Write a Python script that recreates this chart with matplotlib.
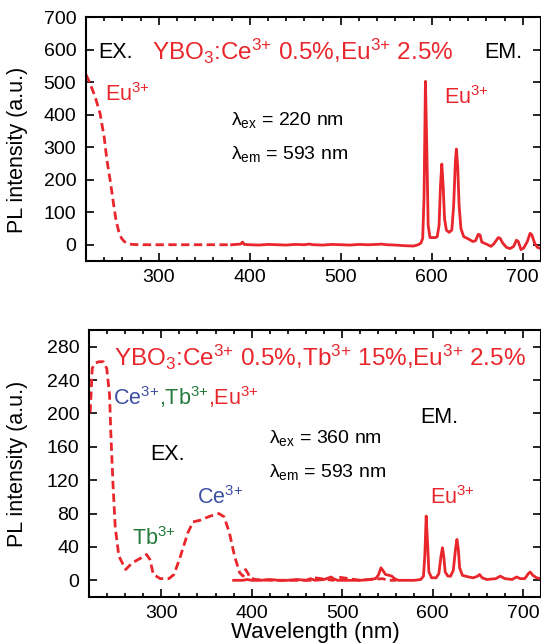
import numpy as np
import matplotlib
matplotlib.use('Agg')
import matplotlib.pyplot as plt
from matplotlib.ticker import MultipleLocator

plt.rcParams['font.family'] = ['Liberation Sans', 'DejaVu Sans']
plt.rcParams['mathtext.fontset'] = 'custom'
plt.rcParams['mathtext.rm'] = 'Liberation Sans'
plt.rcParams['mathtext.it'] = 'Liberation Sans:italic'
plt.rcParams['mathtext.bf'] = 'Liberation Sans:bold'
plt.rcParams['mathtext.default'] = 'regular'

RED = '#E8262C'
BLUE = '#3D4FA1'
GREEN = '#237A3B'

# --- top panel: YBO3:Ce 0.5%, Eu 2.5%
ex1_wl = [220, 223, 226, 230, 235.5, 240, 243, 247, 250.7, 253, 256.4, 259, 262, 266, 270,
          280, 300, 320, 340, 360, 380]
ex1_int = [523, 505, 484, 455, 403, 330, 260, 190, 117, 75, 36, 20, 10, 4, 1,
           0, 0, 0, 0, 0, 0]

em1_wl = [380, 385, 390, 392, 394, 400, 410, 420, 430, 440, 450, 460, 465, 470, 480, 490,
          500, 510, 520, 530, 540, 545, 550, 560, 570, 580, 585, 588, 590, 591.5, 593,
          594.5, 596, 598, 604, 606, 608, 609.5, 611, 612.5, 614, 616, 619, 622, 624,
          626, 627, 628.5, 630, 632, 635, 640, 645, 648, 651, 653, 655, 660, 665, 668,
          670, 673, 675, 678, 682, 686, 690, 693, 695, 698, 701, 705, 708, 710, 713,
          716, 720]
em1_int = [0, 1, 2, 8, 1, 0, -1, 1, 0, -1, 1, 0, 2, 0, -1, 1,
           0, -1, 1, 0, 1, 2, 0, -1, -3, -4, 0, 5, 20, 150, 502,
           300, 60, 22, 22, 25, 60, 180, 248, 180, 80, 45, 38, 45, 120,
           260, 294, 240, 120, 50, 25, 18, 10, 12, 32, 30, 8, 2, -5, 2,
           10, 22, 20, 5, -8, -12, -5, 14, 10, -15, -10, 10, 35, 30, 5,
           -8, -12]

# --- bottom panel: YBO3:Ce 0.5%, Tb 15%, Eu 2.5%
ex2_wl = [221.3, 223.6, 226.3, 231, 235.8, 239.6, 242.7, 244.2, 246.5, 249, 253, 260.6,
          268, 277.8, 283.6, 287.4, 291.2, 298.9, 308.4, 314, 320, 329.4, 335, 342.8,
          354.2, 363.8, 369.5, 375.3, 381, 386.7, 390.5, 393.2, 396, 398, 404, 420,
          440, 465, 470, 490, 495, 520, 545, 550, 560]
ex2_int = [201, 254, 260, 262, 262, 254, 223, 175, 116, 64, 29, 13,
           21, 27, 31, 25, 7, 2, 2, 7, 25, 57, 70, 72,
           77, 80, 76, 57, 29, 9, 5, 13, 8, 3, 1, 0,
           0, 0, 3, 0, 4, 0, 2, 0, 0]

em2_wl = [380, 390, 395, 400, 410, 420, 430, 440, 450, 460, 465, 470, 480, 488, 490, 495,
          500, 510, 520, 530, 537, 540, 543, 545, 548, 552, 555, 558, 562, 570, 580,
          587, 590, 591.5, 593, 594.5, 596, 599, 604, 607, 609.5, 611, 612.5, 614, 617,
          620, 623, 625.5, 627, 628.5, 630, 633, 640, 645, 650, 652, 655, 660, 670, 675,
          680, 688, 693, 697, 702, 706, 708, 711, 715, 720]
em2_int = [0, 0, 1, 0, 0, 1, 0, 0, 1, 0, 2, 0, 1, 4, 2, 0,
           0, 0, 0, 1, 2, 6, 15, 12, 7, 6, 5, 2, 0, 0, 0,
           1, 5, 30, 77, 45, 10, 3, 3, 8, 30, 39, 28, 10, 5,
           5, 12, 38, 49, 38, 15, 6, 4, 3, 5, 7, 3, 1, 2, 5,
           2, 1, 4, 2, 2, 8, 10, 6, 3, 2]

top_yticks = [0, 100, 200, 300, 400, 500, 600, 700]
bot_yticks = [0, 40, 80, 120, 160, 200, 240, 280]
xticks = [300, 400, 500, 600, 700]

S = r'$^{\text{3+}}$'

fig = plt.figure(figsize=(5.41, 6.43), dpi=100)
ax1 = fig.add_axes([86/541, 1-261/643, 455/541, 244/643])
ax2 = fig.add_axes([89/541, 1-597/643, 452/541, 267/643])

for ax in (ax1, ax2):
    for s in ax.spines.values():
        s.set_linewidth(1.5)
    ax.set_xlim(220, 720)
    ax.set_xticks(xticks)
    ax.xaxis.set_minor_locator(MultipleLocator(20))
    ax.tick_params(axis='both', which='both', direction='in', top=True, right=True,
                   labelsize=14, width=1.2)
    ax.tick_params(axis='both', which='major', length=5.5)
    ax.tick_params(axis='x', which='minor', length=3)
    ax.tick_params(axis='x', which='major', pad=6)
    ax.tick_params(axis='y', which='major', pad=7)
    ax.tick_params(axis='y', which='minor', left=False, right=False)

dash = (0, (3, 1.6))

ax1.plot(ex1_wl, ex1_int, color=RED, lw=2.0, linestyle=dash)
ax1.plot(em1_wl, em1_int, color=RED, lw=2.0)
ax1.set_ylim(-50, 700)
ax1.set_yticks(top_yticks)
ax1.set_ylabel('PL intensity (a.u.)', fontsize=15.5)
ax1.yaxis.set_label_coords(-0.127, 0.455)

ax1.text(233.6, 574, 'EX.', fontsize=15.5, va='baseline')
ax1.text(658, 574, 'EM.', fontsize=15.5, va='baseline')
ax1.text(292, 568, 'YBO$_3$:Ce' + S + ' 0.5%,Eu' + S + ' 2.5%', fontsize=17.5,
         color=RED, va='baseline')
ax1.text(241, 443, 'Eu' + S, fontsize=15.5, color=RED, va='baseline')
ax1.text(613, 434, 'Eu' + S, fontsize=15.5, color=RED, va='baseline')
ax1.text(379, 367, 'λ$_{ex}$ = 220 nm', fontsize=14, va='baseline')
ax1.text(379, 262, 'λ$_{em}$ = 593 nm', fontsize=14, va='baseline')

ax2.plot(ex2_wl, ex2_int, color=RED, lw=2.0, linestyle=dash)
ax2.plot(em2_wl, em2_int, color=RED, lw=2.0)
ax2.set_ylim(-20, 300)
ax2.set_yticks(bot_yticks)
ax2.set_ylabel('PL intensity (a.u.)', fontsize=15.5)
ax2.yaxis.set_label_coords(-0.135, 0.5)
ax2.set_xlabel('Wavelength (nm)', fontsize=16, labelpad=0)

ax2.text(247.3, 256.5, 'YBO$_3$:Ce' + S + ' 0.5%,Tb' + S + ' 15%,Eu' + S + ' 2.5%',
         fontsize=17.5, color=RED, va='baseline')
ax2.text(247, 210, 'Ce' + S, fontsize=15.5, color=BLUE, va='baseline')
ax2.text(297, 210, ',Tb' + S, fontsize=15.5, color=GREEN, va='baseline')
ax2.text(351.6, 210, ',Eu' + S, fontsize=15.5, color=RED, va='baseline')
ax2.text(287.4, 143.7, 'EX.', fontsize=15.5, va='baseline')
ax2.text(586.5, 188, 'EM.', fontsize=15.5, va='baseline')
ax2.text(419, 164, 'λ$_{ex}$ = 360 nm', fontsize=14, va='baseline')
ax2.text(419, 124, 'λ$_{em}$ = 593 nm', fontsize=14, va='baseline')
ax2.text(339, 91.4, 'Ce' + S, fontsize=15.5, color=BLUE, va='baseline')
ax2.text(267.5, 42.8, 'Tb' + S, fontsize=15.5, color=GREEN, va='baseline')
ax2.text(596.8, 91.4, 'Eu' + S, fontsize=15.5, color=RED, va='baseline')

fig.savefig('out.png', dpi=100)
